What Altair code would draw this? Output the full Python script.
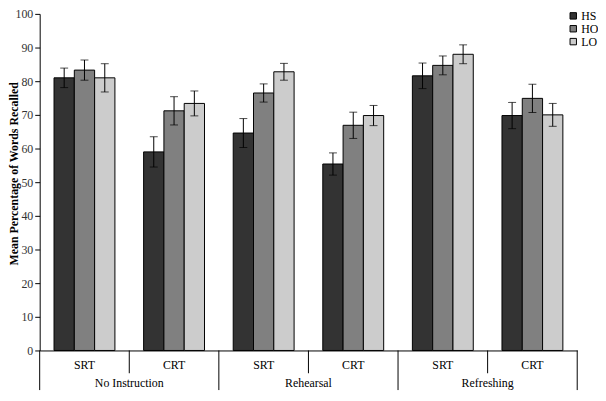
import altair as alt
import pandas as pd

instructions = ["No Instruction", "Rehearsal", "Refreshing"]
tasks = ["SRT", "CRT"]
series = ["HS", "HO", "LO"]

hs_mean = [81.0, 59.0, 64.6, 55.4, 81.6, 69.8]
ho_mean = [83.3, 71.2, 76.5, 66.9, 84.7, 74.9]
lo_mean = [81.0, 73.4, 82.8, 69.8, 88.0, 70.0]
hs_err = [2.9, 4.5, 4.3, 3.3, 3.8, 3.9]
ho_err = [3.0, 4.2, 2.7, 3.9, 2.8, 4.2]
lo_err = [4.2, 3.7, 2.5, 3.0, 2.8, 3.4]

colors = ["#333333", "#808080", "#cccccc"]
FONT = "Liberation Serif, 'Times New Roman', Times, 'DejaVu Serif', serif"

cond_order = [f"{i}|{t}" for i in instructions for t in tasks]
means = {"HS": hs_mean, "HO": ho_mean, "LO": lo_mean}
errs = {"HS": hs_err, "HO": ho_err, "LO": lo_err}

rows = []
for k, cond in enumerate(cond_order):
    for s in series:
        v = means[s][k]
        e = errs[s][k]
        rows.append(dict(cond=cond, series=s, value=v, lo=v - e, hi=v + e))
df = pd.DataFrame(rows)

task_df = pd.DataFrame([dict(cond=c, task=c.split("|")[1]) for c in cond_order])
srt_df = pd.DataFrame([dict(cond=f"{i}|SRT", instr=i) for i in instructions])
crt_df = pd.DataFrame([dict(cond=f"{i}|CRT") for i in instructions])
first_df = pd.DataFrame([dict(cond=cond_order[0])])

W, H = 543, 340

xscale = alt.Scale(domain=cond_order, paddingInner=0, paddingOuter=0)
xaxis = alt.Axis(labels=False, ticks=False, title=None, domainColor="black",
                 domainWidth=1, grid=False)


def X(**kw):
    return alt.X("cond:N", sort=cond_order, scale=xscale, axis=xaxis, **kw)


xoff = alt.XOffset("series:N", sort=series,
                   scale=alt.Scale(domain=series, paddingInner=0, paddingOuter=0.707))

yaxis = alt.Axis(values=list(range(0, 101, 10)), tickSize=5, tickColor="black",
                 domainColor="black", grid=False, labelFont=FONT, labelFontSize=12,
                 labelColor="#333333", labelPadding=2, labelOverlap=False,
                 title="Mean Percentage of Words Recalled", titleFont=FONT,
                 titleFontSize=12, titleFontWeight="bold", titleColor="black",
                 titleX=-31, titleY=161, titleBaseline="top")
yscale = alt.Scale(domain=[0, 100], nice=False)


def Y(field):
    return alt.Y(field, scale=yscale, axis=yaxis)


base = alt.Chart(df)

bars = base.mark_bar(stroke="black", strokeWidth=1).encode(
    x=X(),
    xOffset=xoff,
    y=Y("value:Q"),
    color=alt.Color("series:N", sort=series,
                    scale=alt.Scale(domain=series, range=colors),
                    legend=alt.Legend(orient="none", legendX=533, legendY=-4,
                                      title=None, symbolType="square",
                                      symbolSize=42, symbolStrokeColor="black",
                                      symbolStrokeWidth=1, labelFont=FONT,
                                      labelFontSize=12, labelColor="black",
                                      rowPadding=1, labelOffset=2)),
)

err = base.mark_rule(color="black", strokeWidth=1).encode(
    x=X(), xOffset=xoff, y=Y("lo:Q"), y2="hi:Q"
)
cap_hi = base.mark_tick(color="black", thickness=1, size=8).encode(
    x=X(), xOffset=xoff, y=Y("hi:Q")
)
cap_lo = base.mark_tick(color="black", thickness=1, size=8).encode(
    x=X(), xOffset=xoff, y=Y("lo:Q")
)

task_text = alt.Chart(task_df).mark_text(font=FONT, fontSize=12, color="black",
                                         baseline="middle").encode(
    x=X(), y=alt.value(H + 15), text="task:N"
)
instr_text = alt.Chart(srt_df).mark_text(font=FONT, fontSize=12, color="black",
                                         baseline="middle").encode(
    x=X(bandPosition=1), y=alt.value(H + 33), text="instr:N"
)
short_sep = alt.Chart(srt_df).mark_rule(color="black", strokeWidth=1).encode(
    x=X(bandPosition=1), y=alt.value(H), y2=alt.value(H + 23)
)
long_sep = alt.Chart(crt_df).mark_rule(color="black", strokeWidth=1).encode(
    x=X(bandPosition=1), y=alt.value(H), y2=alt.value(H + 40)
)
left_sep = alt.Chart(first_df).mark_rule(color="black", strokeWidth=1).encode(
    x=X(bandPosition=0), y=alt.value(H), y2=alt.value(H + 40)
)

chart = alt.layer(
    bars, err, cap_hi, cap_lo, task_text, instr_text, short_sep, long_sep, left_sep
).properties(
    width=W, height=H,
    autosize=alt.AutoSizeParams(type="none"),
    padding={"left": 32, "top": 4, "right": 21, "bottom": 40},
).configure_view(stroke=None)

chart.save("out.html", embed_options={"renderer": "svg", "actions": False})
